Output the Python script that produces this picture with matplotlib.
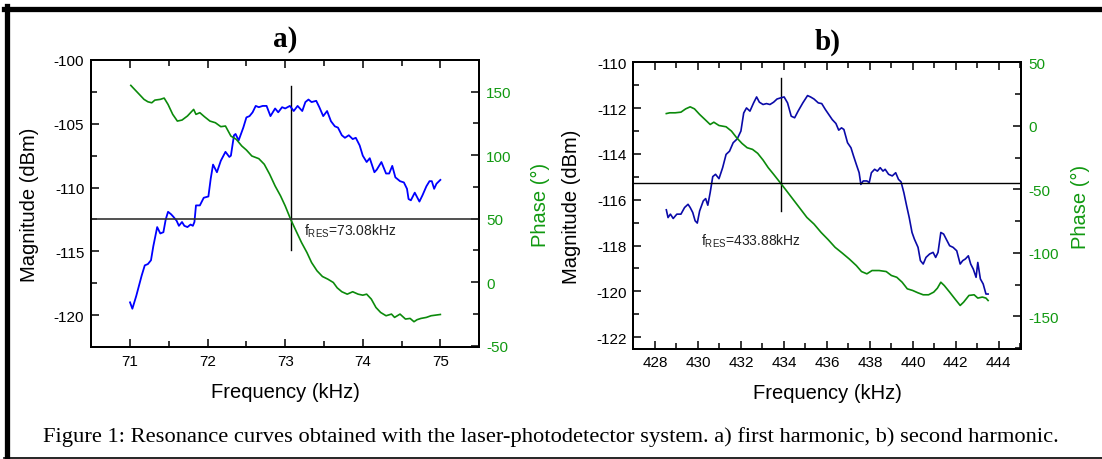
import numpy as np
import matplotlib.pyplot as plt
from matplotlib.ticker import MultipleLocator
from matplotlib.lines import Line2D

plt.rcParams['font.family'] = ['Liberation Sans', 'DejaVu Sans']
plt.rcParams['mathtext.default'] = 'regular'

# --- a) first harmonic -------------------------------------------------
freq_a_mag = [71.0, 71.03, 71.08, 71.15, 71.19, 71.23, 71.27, 71.30, 71.35, 71.39, 71.43, 71.46,
              71.49, 71.53, 71.56, 71.60, 71.63, 71.67, 71.70, 71.74, 71.78, 71.81, 71.83, 71.85,
              71.90, 71.95, 72.01, 72.04, 72.07, 72.12, 72.17, 72.23, 72.28, 72.30, 72.34, 72.36,
              72.40, 72.46, 72.50, 72.54, 72.58, 72.62, 72.66, 72.71, 72.76, 72.81, 72.87, 72.91,
              72.96, 73.00, 73.06, 73.11, 73.16, 73.22, 73.26, 73.30, 73.34, 73.40, 73.44, 73.49,
              73.54, 73.59, 73.64, 73.68, 73.73, 73.77, 73.82, 73.87, 73.91, 73.96, 74.00, 74.05,
              74.09, 74.15, 74.18, 74.24, 74.30, 74.34, 74.38, 74.42, 74.48, 74.53, 74.57, 74.59,
              74.62, 74.67, 74.73, 74.77, 74.82, 74.86, 74.89, 74.92, 74.95, 75.0]
mag_a = [-119.0, -119.5, -118.5, -116.9, -116.1, -116.0, -115.7, -114.6, -113.1, -113.6, -113.5, -112.5,
         -111.9, -112.1, -112.3, -112.6, -113.0, -112.7, -113.0, -113.1, -112.9, -113.0, -112.7, -111.4,
         -111.4, -110.8, -110.7, -109.3, -108.2, -108.8, -107.9, -107.2, -107.6, -107.5, -105.9, -105.8,
         -106.3, -105.3, -104.5, -104.4, -104.1, -103.6, -103.7, -103.6, -103.6, -104.4, -103.8, -104.1,
         -103.7, -103.8, -103.6, -104.0, -103.6, -104.0, -103.3, -103.1, -103.3, -103.2, -103.7, -104.4,
         -104.0, -104.8, -105.2, -105.3, -105.9, -106.1, -105.9, -106.2, -106.1, -106.7, -107.5, -108.0,
         -107.7, -108.8, -108.6, -108.0, -108.9, -108.9, -108.3, -109.2, -109.5, -109.6, -110.1, -110.9,
         -111.0, -110.4, -111.1, -110.6, -109.9, -109.5, -109.5, -110.1, -109.7, -109.4]

freq_a_ph = [71.01, 71.05, 71.12, 71.18, 71.23, 71.28, 71.32, 71.39, 71.44, 71.49, 71.55, 71.61,
             71.67, 71.74, 71.82, 71.85, 71.90, 71.96, 72.03, 72.10, 72.17, 72.23, 72.30, 72.37,
             72.44, 72.50, 72.57, 72.66, 72.73, 72.80, 72.87, 72.94, 73.00, 73.07, 73.14, 73.21,
             73.28, 73.34, 73.41, 73.48, 73.55, 73.62, 73.67, 73.73, 73.80, 73.87, 73.94, 74.00,
             74.05, 74.11, 74.17, 74.23, 74.30, 74.37, 74.41, 74.48, 74.55, 74.61, 74.66, 74.70,
             74.75, 74.82, 74.88, 75.0]
phase_a = [155.0, 152.4, 147.9, 144.0, 142.1, 141.3, 143.4, 144.0, 145.0, 140.0, 132.2, 126.9,
           127.7, 130.9, 136.1, 132.2, 133.5, 130.3, 126.9, 125.6, 122.5, 123.0, 115.1, 112.5,
           107.3, 104.1, 99.4, 97.3, 92.9, 85.0, 75.8, 68.0, 60.1, 49.6, 40.4, 31.3,
           23.4, 15.5, 9.0, 4.5, 2.4, -0.2, -4.4, -7.5, -9.4, -7.5, -9.4, -10.2,
           -9.4, -13.3, -19.9, -23.8, -26.4, -25.1, -27.7, -25.1, -29.0, -28.5, -31.1, -29.5,
           -28.5, -27.7, -26.4, -25.4]

# --- b) second harmonic ------------------------------------------------
freq_b_mag = [428.53, 428.61, 428.72, 428.85, 429.02, 429.21, 429.38, 429.54, 429.64, 429.76, 429.87, 429.97,
              430.08, 430.25, 430.36, 430.46, 430.57, 430.69, 430.82, 430.98, 431.15, 431.31, 431.47, 431.64,
              431.83, 432.00, 432.13, 432.26, 432.42, 432.59, 432.73, 432.86, 433.03, 433.19, 433.35, 433.52,
              433.68, 433.85, 434.01, 434.17, 434.34, 434.50, 434.66, 434.88, 435.10, 435.24, 435.40, 435.60,
              435.76, 435.93, 436.09, 436.25, 436.42, 436.55, 436.68, 436.79, 436.96, 437.12, 437.24, 437.37,
              437.50, 437.58, 437.69, 437.86, 437.97, 438.07, 438.22, 438.35, 438.48, 438.61, 438.71, 438.87,
              439.04, 439.20, 439.33, 439.45, 439.58, 439.71, 439.83, 439.96, 440.07, 440.24, 440.35, 440.48,
              440.61, 440.78, 440.94, 441.06, 441.17, 441.30, 441.43, 441.55, 441.71, 441.87, 442.04, 442.20,
              442.32, 442.44, 442.58, 442.69, 442.81, 442.94, 443.02, 443.14, 443.27, 443.40, 443.50]
mag_b = [-116.44, -116.78, -116.63, -116.82, -116.63, -116.63, -116.34, -116.20, -116.34, -116.56, -116.92, -117.02,
         -116.49, -116.05, -115.95, -116.24, -115.69, -114.99, -114.89, -115.08, -114.60, -114.02, -113.88, -113.51,
         -113.34, -113.00, -112.21, -111.99, -112.13, -111.77, -111.51, -111.74, -111.84, -111.80, -111.84, -111.74,
         -111.60, -111.55, -111.51, -111.77, -112.35, -112.42, -112.13, -111.77, -111.45, -111.51, -111.60, -111.77,
         -111.80, -112.06, -112.28, -112.50, -112.67, -112.96, -112.86, -112.93, -113.51, -113.73, -114.09, -114.46,
         -114.82, -115.33, -115.18, -115.18, -115.25, -114.82, -114.67, -114.75, -114.60, -114.75, -114.67, -114.89,
         -114.96, -114.82, -115.11, -115.22, -115.69, -116.27, -116.78, -117.43, -117.72, -118.08, -118.66, -118.81,
         -118.52, -118.37, -118.30, -118.52, -118.30, -117.43, -117.50, -117.72, -118.01, -118.08, -118.23, -118.81,
         -118.66, -118.59, -118.45, -118.81, -119.03, -119.39, -118.74, -119.46, -119.68, -120.12, -120.12]

freq_b_ph = [428.53, 428.69, 428.94, 429.21, 429.43, 429.64, 429.84, 430.08, 430.33, 430.57, 430.74, 430.98,
             431.31, 431.56, 431.80, 432.05, 432.29, 432.54, 432.78, 433.03, 433.27, 433.52, 433.85, 434.09,
             434.42, 434.75, 435.07, 435.40, 435.73, 436.06, 436.38, 436.71, 437.04, 437.37, 437.61, 437.86,
             438.10, 438.43, 438.76, 439.00, 439.25, 439.50, 439.74, 439.99, 440.23, 440.48, 440.73, 440.97,
             441.14, 441.30, 441.46, 441.71, 441.95, 442.20, 442.36, 442.61, 442.85, 443.02, 443.23, 443.40, 443.50]
phase_b = [9.7, 10.3, 10.3, 10.8, 13.4, 15.0, 13.4, 9.0, 5.0, 1.1, 2.9, 0.3,
           -0.7, -4.1, -9.3, -13.8, -17.2, -18.5, -21.6, -26.9, -32.9, -38.1, -45.2, -50.4,
           -57.7, -65.0, -72.1, -77.3, -83.9, -89.6, -95.6, -100.1, -104.8, -110.0, -114.7, -116.5,
           -113.9, -113.9, -114.7, -117.8, -119.2, -123.1, -128.3, -129.6, -131.4, -133.0, -133.0, -130.9,
           -127.8, -123.1, -125.7, -130.9, -136.1, -141.4, -138.8, -133.5, -133.0, -135.6, -134.8, -135.6, -137.5]

# resonance markers
f_res_a = 73.08
f_res_b = 433.88
ph_res_a = 50
ph_res_b = -45

GREEN = '#0b8a0b'
GREEN_TXT = '#119911'

fig = plt.figure(figsize=(11.02, 4.6), dpi=100)


def style_axes(ax, ax2, xmaj, xmin, ymaj, ymin, pmaj, pmin, phase_pad):
    for a in (ax, ax2):
        for s in a.spines.values():
            s.set_linewidth(1.4)
    ax.xaxis.set_major_locator(MultipleLocator(xmaj))
    ax.xaxis.set_minor_locator(MultipleLocator(xmin))
    ax.yaxis.set_major_locator(MultipleLocator(ymaj))
    ax.yaxis.set_minor_locator(MultipleLocator(ymin))
    ax2.yaxis.set_major_locator(MultipleLocator(pmaj))
    ax2.yaxis.set_minor_locator(MultipleLocator(pmin))
    ax.tick_params(which='both', direction='in', top=True, right=False, labelsize=11, pad=5, width=1.1)
    ax.tick_params(which='major', length=6)
    ax.tick_params(which='minor', length=4)
    ax2.tick_params(which='both', direction='in', labelsize=11, pad=5, width=1.1,
                    labelcolor=GREEN_TXT)
    ax2.tick_params(which='major', length=6)
    ax2.tick_params(which='minor', length=4)
    ax.set_xlabel('Frequency (kHz)', fontsize=14.5, labelpad=10)
    ax.set_ylabel('Magnitude (dBm)', fontsize=14.5, labelpad=11)
    ax2.set_ylabel('Phase (°)', fontsize=14.5, color=GREEN_TXT, labelpad=phase_pad)
    ax.yaxis.set_major_formatter(plt.FuncFormatter(lambda v, p: '%g' % v))
    ax2.yaxis.set_major_formatter(plt.FuncFormatter(lambda v, p: '%g' % v))


# panel a
axA = fig.add_axes([0.0828, 0.2435, 0.352, 0.6239])
axA2 = axA.twinx()
axA.plot(freq_a_mag, mag_a, color='#0000ff', lw=1.3, zorder=3)
axA2.plot(freq_a_ph, phase_a, color=GREEN, lw=1.2)
axA.set_xlim(70.5, 75.5)
axA.set_ylim(-122.5, -100)
axA2.set_ylim(-51, 175)
axA2.axhline(ph_res_a, color='#333333', lw=1.2)
axA.plot([f_res_a, f_res_a], [-102.0, -114.9], color='black', lw=1.0)
axA.text(73.24, -113.65, r'f$_{RES}$=73.08kHz', fontsize=10, color='#222222')
style_axes(axA, axA2, 1, 0.5, 5, 2.5, 50, 25, 14)
axA.set_title('a)', fontsize=21, fontweight='bold', family='Liberation Serif', pad=10)

# panel b
axB = fig.add_axes([0.5748, 0.2402, 0.3517, 0.622])
axB2 = axB.twinx()
axB.plot(freq_b_mag, mag_b, color='#0a0aa8', lw=1.2, zorder=3)
axB2.plot(freq_b_ph, phase_b, color=GREEN, lw=1.2)
axB.set_xlim(427, 445.03)
axB.set_ylim(-122.5, -110)
axB2.set_ylim(-175.3, 50)
axB2.axhline(ph_res_b, color='black', lw=1.0)
axB.plot([f_res_b, f_res_b], [-110.68, -116.49], color='black', lw=1.0)
axB.text(430.16, -117.94, r'f$_{RES}$=433.88kHz', fontsize=10, color='#222222')
style_axes(axB, axB2, 2, 1, 2, 1, 50, 25, 9)
axB.set_title('b)', fontsize=21, fontweight='bold', family='Liberation Serif', pad=10)

# caption
fig.text(0.5, 0.039, 'Figure 1: Resonance curves obtained with the laser-photodetector system. '
         'a) first harmonic, b) second harmonic.', ha='center', va='baseline',
         fontsize=16.2, family='Liberation Serif')

# page frame
fig.add_artist(Line2D([0.004, 1.0], [1 - 9.5 / 460, 1 - 9.5 / 460], transform=fig.transFigure,
                      color='black', lw=3.8))
fig.add_artist(Line2D([6.5 / 1102, 6.5 / 1102], [1 - 7 / 460, 1 - 458.5 / 460], transform=fig.transFigure,
                      color='black', lw=3.8))
fig.add_artist(Line2D([0.004, 1.0], [1 - 458.5 / 460, 1 - 458.5 / 460], transform=fig.transFigure,
                      color='black', lw=1.2))

fig.savefig('out.png', dpi=100)
